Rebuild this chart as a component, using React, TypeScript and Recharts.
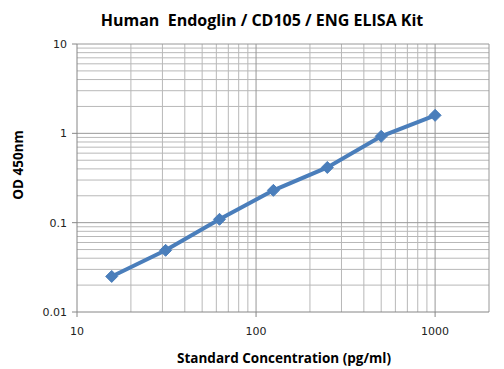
import { ComposedChart, Line, XAxis, YAxis, ReferenceLine } from 'recharts';

const concentrations = [15.625, 31.25, 62.5, 125, 250, 500, 1000];
const odValues = [0.025, 0.049, 0.109, 0.23, 0.415, 0.925, 1.59];

const xTicks = [10, 100, 1000];
const yTicks = [0.01, 0.1, 1, 10];

// minor gridlines 2..9 inside each decade
const decadesX = [10, 100];
const decadesY = [0.01, 0.1, 1];
const minors = [2, 3, 4, 5, 6, 7, 8, 9];
const xMinor = decadesX.flatMap((d) => minors.map((m) => d * m));
const yMinor = decadesY.flatMap((d) => minors.map((m) => +(d * m).toPrecision(3)));

const data = concentrations.map((c, i) => ({ conc: c, od: odValues[i] }));

const BLUE = '#4a7ebb';
const AXIS = '#868686';
const GRID = '#b8b8b8';
const GRID_MAJOR = '#989898';

const font = '"Open Sans", sans-serif';
const tickFont = '"DejaVu Sans", sans-serif';

function Diamond(props: any) {
  const { cx, cy } = props;
  if (cx == null || cy == null) return null;
  const r = 6;
  return (
    <path
      d={`M${cx},${cy - r} L${cx + r},${cy} L${cx},${cy + r} L${cx - r},${cy} Z`}
      fill={BLUE}
      stroke={BLUE}
    />
  );
}

export default function App() {
  return (
    <div style={{ position: 'absolute', left: 0, top: 0, width: 504, height: 369, background: '#fff' }}>
      <ComposedChart
        width={504}
        height={369}
        data={data}
        margin={{ top: 44, right: 15, left: 0, bottom: 0 }}
      >
        <text
          x={262}
          y={26}
          textAnchor="middle"
          style={{ fontFamily: font, fontWeight: 700, fontSize: 16, fill: '#000', whiteSpace: 'pre' }}
        >
          {'Human  Endoglin / CD105 / ENG ELISA Kit'}
        </text>
        <text
          transform="translate(23,165) rotate(-90)"
          textAnchor="middle"
          style={{ fontFamily: font, fontWeight: 700, fontSize: 13.5, fill: '#000' }}
        >
          OD 450nm
        </text>
        <text
          x={284}
          y={363}
          textAnchor="middle"
          style={{ fontFamily: font, fontWeight: 700, fontSize: 13.5, fill: '#000' }}
        >
          Standard Concentration (pg/ml)
        </text>
        {xMinor.map((v) => (
          <ReferenceLine key={`vx${v}`} x={v} stroke={GRID} strokeWidth={1} ifOverflow="hidden" />
        ))}
        {yMinor.map((v) => (
          <ReferenceLine key={`hy${v}`} y={v} stroke={GRID} strokeWidth={1} ifOverflow="hidden" />
        ))}
        {[100, 1000].map((v) => (
          <ReferenceLine key={`VX${v}`} x={v} stroke={GRID_MAJOR} strokeWidth={1} />
        ))}
        {[0.1, 1, 10].map((v) => (
          <ReferenceLine key={`HY${v}`} y={v} stroke={GRID_MAJOR} strokeWidth={1} />
        ))}
        <ReferenceLine x={2000} stroke={GRID_MAJOR} strokeWidth={1} />
        <XAxis
          dataKey="conc"
          type="number"
          scale="log"
          domain={[10, 2000]}
          ticks={xTicks}
          allowDataOverflow
          height={57}
          stroke={AXIS}
          tickSize={5}
          tick={{ fill: '#222', fontSize: 11, fontFamily: tickFont, dy: 8 }}
        />
        <YAxis
          type="number"
          scale="log"
          domain={[0.01, 10]}
          ticks={yTicks}
          allowDataOverflow
          width={77}
          stroke={AXIS}
          tickSize={5}
          tickFormatter={(v: number) => String(v)}
          tick={{ fill: '#222', fontSize: 11, fontFamily: tickFont, dx: -3 }}
        />
        <Line
          dataKey="od"
          stroke={BLUE}
          strokeWidth={4}
          dot={<Diamond />}
          isAnimationActive={false}
        />
      </ComposedChart>
    </div>
  );
}
